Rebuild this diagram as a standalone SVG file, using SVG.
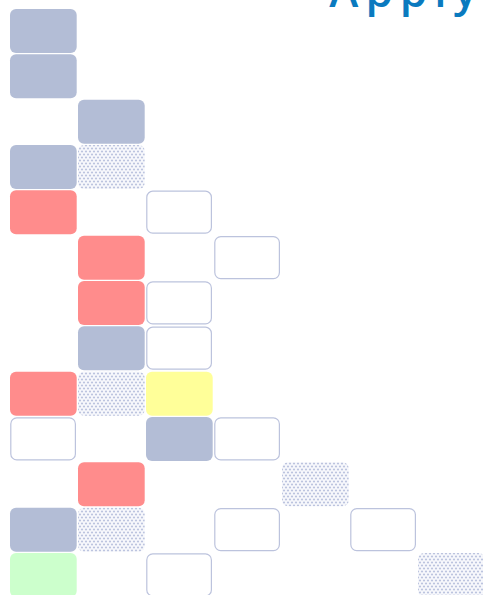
<svg xmlns="http://www.w3.org/2000/svg" width="483" height="595" viewBox="0 0 483 595">
<style>
.n{rx:6;ry:6}
.b{fill:#b3bdd6}
.r{fill:#ff8c8c}
.y{fill:#ffff99}
.g{fill:#ccffcc}
.o{fill:#ffffff;stroke:#bcc3dd;stroke-width:1.2}
.d{fill:url(#dots)}
.t{font-family:"Open Sans","Liberation Sans",sans-serif;font-size:44px;font-weight:600;letter-spacing:7px;fill:#0a7abf}
</style>
<defs>
<pattern id="dots" width="4" height="6" patternUnits="userSpaceOnUse">
<rect width="4" height="6" fill="#f7f8fc"/>
<circle cx="2" cy="1.5" r="1.1" fill="#bcc4df"/>
<circle cx="0" cy="4.5" r="1.1" fill="#bcc4df"/>
<circle cx="4" cy="4.5" r="1.1" fill="#bcc4df"/>
</pattern>
</defs>
<text class="t" x="484" y="7" text-anchor="end">Apply</text>
<g id="connectors"></g>
<g id="n0"><rect class="n b" x="10" y="9" width="66.7" height="44"/></g>
<g id="n1"><rect class="n b" x="10" y="54.3" width="66.7" height="44"/></g>
<g id="n2"><rect class="n b" x="78" y="99.7" width="66.7" height="44"/></g>
<g id="n3"><rect class="n b" x="10" y="145" width="66.7" height="44"/></g>
<g id="n4"><rect class="n d" x="78" y="145" width="66.7" height="44"/></g>
<g id="n5"><rect class="n r" x="10" y="190.3" width="66.7" height="44"/></g>
<g id="n6"><rect class="n o" x="146.8" y="191.2" width="64.6" height="42"/></g>
<g id="n7"><rect class="n r" x="78" y="235.7" width="66.7" height="44"/></g>
<g id="n8"><rect class="n o" x="214.8" y="236.6" width="64.6" height="42"/></g>
<g id="n9"><rect class="n r" x="78" y="281" width="66.7" height="44"/></g>
<g id="n10"><rect class="n o" x="146.8" y="281.9" width="64.6" height="42"/></g>
<g id="n11"><rect class="n b" x="78" y="326.3" width="66.7" height="44"/></g>
<g id="n12"><rect class="n o" x="146.8" y="327.2" width="64.6" height="42"/></g>
<g id="n13"><rect class="n r" x="10" y="371.7" width="66.7" height="44"/></g>
<g id="n14"><rect class="n d" x="78" y="371.7" width="66.7" height="44"/></g>
<g id="n15"><rect class="n y" x="146" y="371.7" width="66.7" height="44"/></g>
<g id="n16"><rect class="n o" x="10.8" y="417.9" width="64.6" height="42"/></g>
<g id="n17"><rect class="n b" x="146" y="417" width="66.7" height="44"/></g>
<g id="n18"><rect class="n o" x="214.8" y="417.9" width="64.6" height="42"/></g>
<g id="n19"><rect class="n r" x="78" y="462.3" width="66.7" height="44"/></g>
<g id="n20"><rect class="n d" x="282" y="462.3" width="66.7" height="44"/></g>
<g id="n21"><rect class="n b" x="10" y="507.7" width="66.7" height="44"/></g>
<g id="n22"><rect class="n d" x="78" y="507.7" width="66.7" height="44"/></g>
<g id="n23"><rect class="n o" x="214.8" y="508.6" width="64.6" height="42"/></g>
<g id="n24"><rect class="n o" x="350.8" y="508.6" width="64.6" height="42"/></g>
<g id="n25"><rect class="n g" x="10" y="553" width="66.7" height="44"/></g>
<g id="n26"><rect class="n o" x="146.8" y="553.9" width="64.6" height="42"/></g>
<g id="n27"><rect class="n d" x="418" y="553" width="66.7" height="44"/></g>
</svg>
